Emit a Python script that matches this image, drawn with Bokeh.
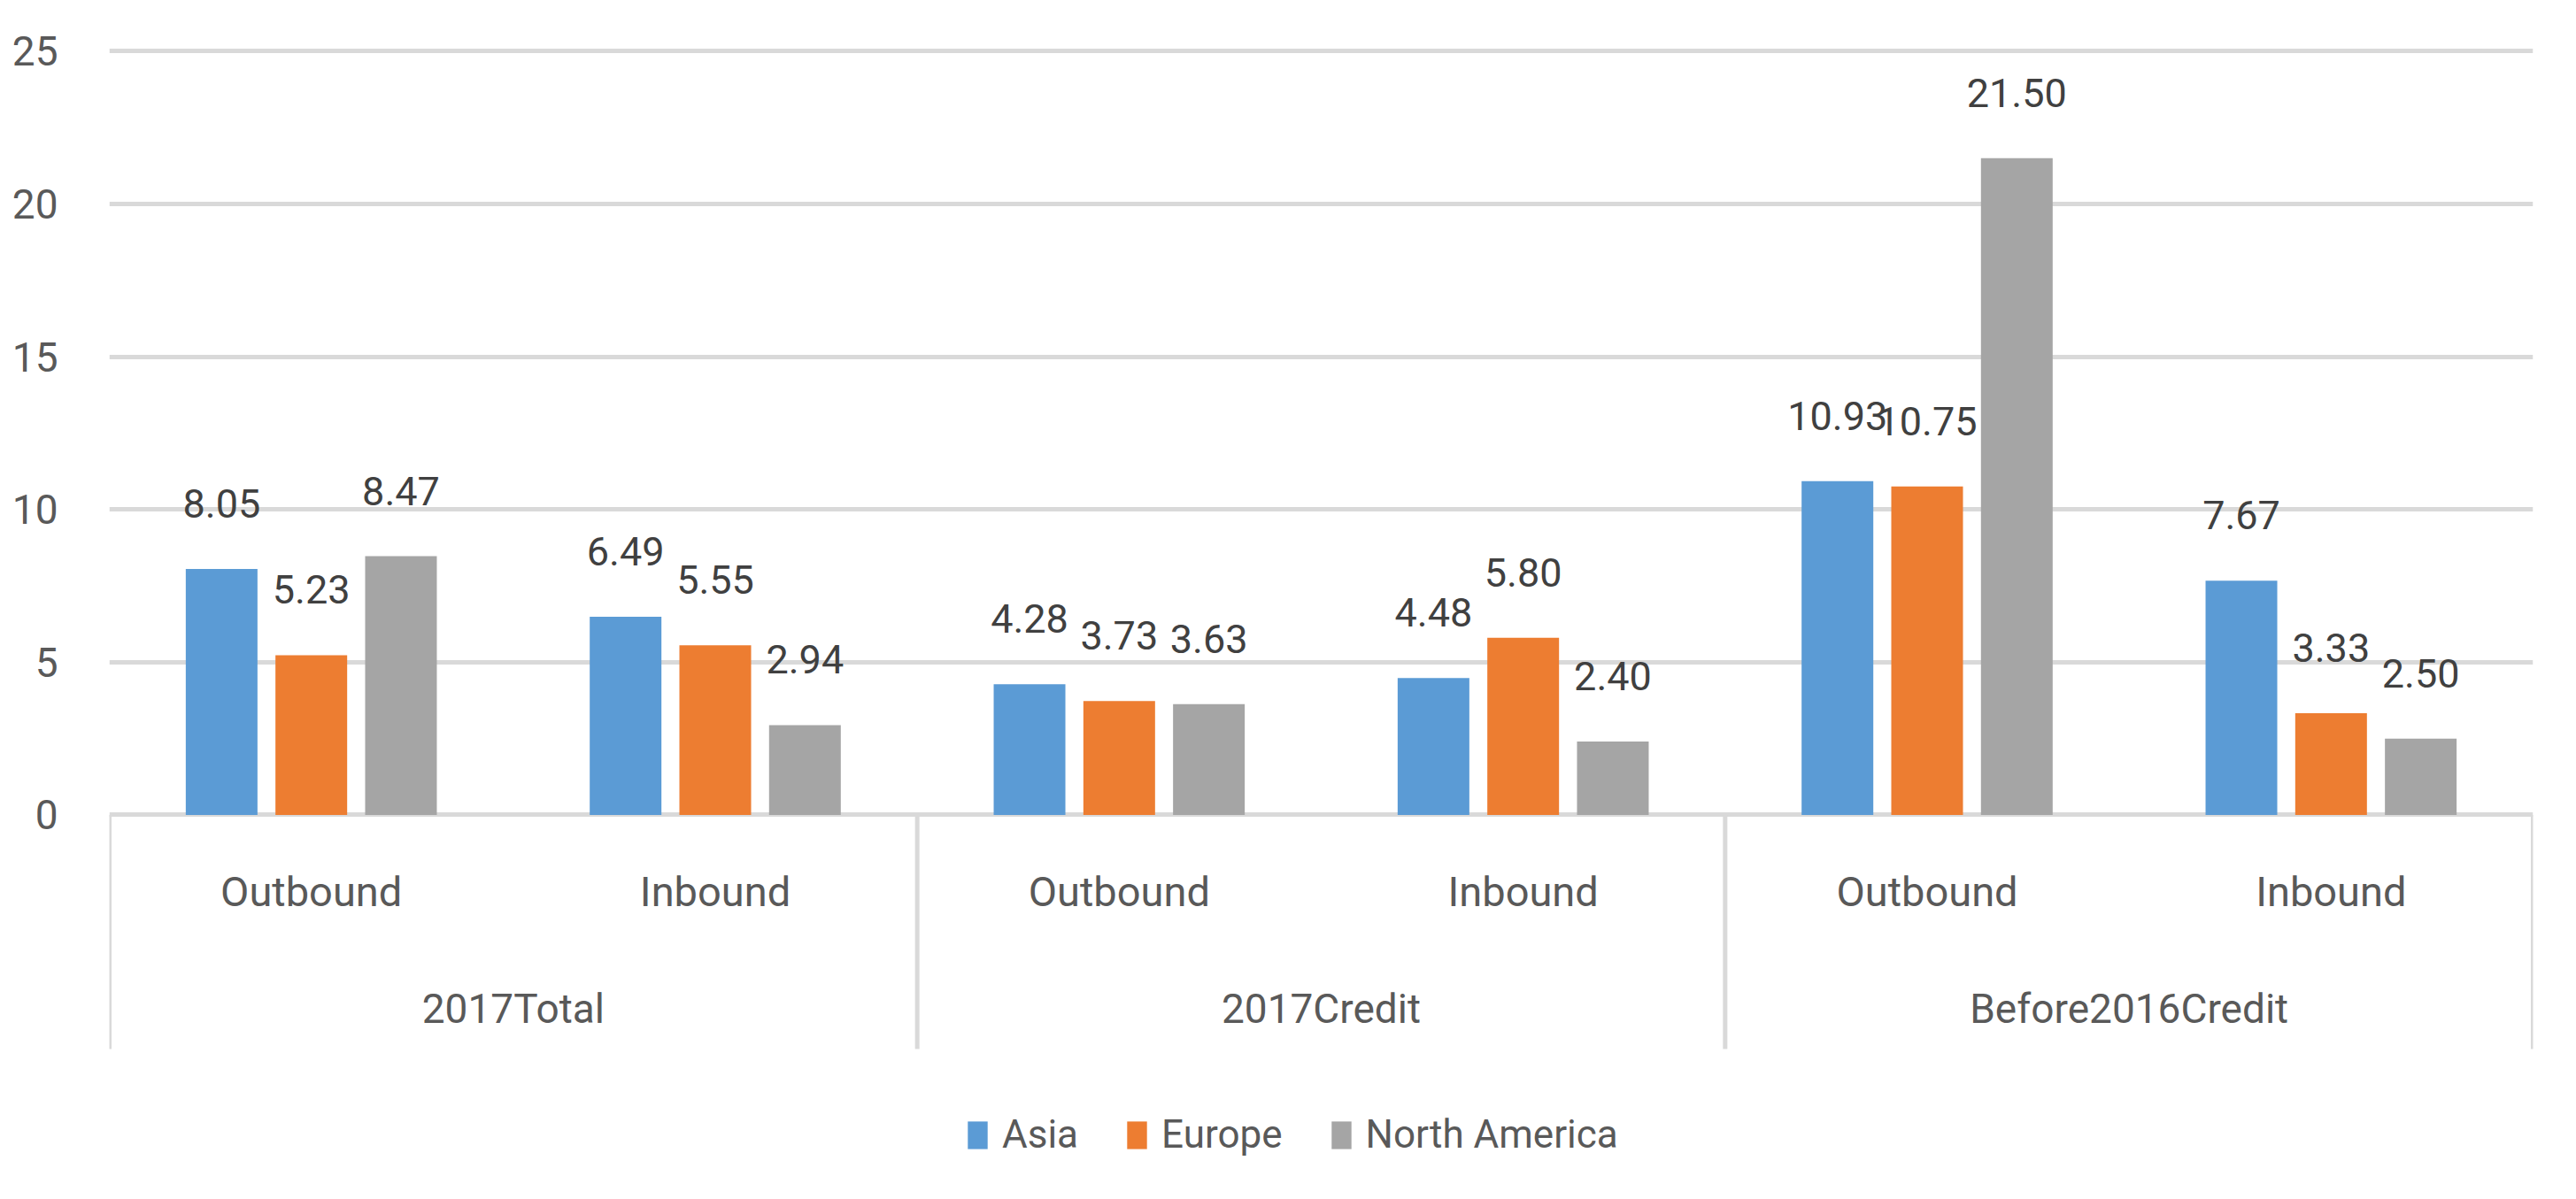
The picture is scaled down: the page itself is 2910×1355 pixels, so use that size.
from bokeh.plotting import figure
from bokeh.models import (FactorRange, ColumnDataSource, FixedTicker, Legend, LegendItem, Range1d)
from bokeh.transform import dodge
from bokeh.core.properties import value
from bokeh.embed import file_html
from bokeh.resources import INLINE

groups = ["2017Total", "2017Credit", "Before2016Credit"]
subs = ["Outbound", "Inbound"]
series = ["Asia", "Europe", "North America"]
asia = [8.05, 6.49, 4.28, 4.48, 10.93, 7.67]
europe = [5.23, 5.55, 3.73, 5.80, 10.75, 3.33]
north_america = [8.47, 2.94, 3.63, 2.40, 21.50, 2.50]
y_ticks = [0, 5, 10, 15, 20, 25]

colors = ["#5B9BD5", "#ED7D31", "#A5A5A5"]
FONT = "Roboto"
AXIS_COLOR = "#595959"
LABEL_COLOR = "#404040"
GRID_COLOR = "#D9D9D9"

factors = [(g, s) for g in groups for s in subs]
x_range = FactorRange(*factors, group_padding=0, subgroup_padding=0,
                      factor_padding=0, range_padding=0)

p = figure(width=2894, height=1339, x_range=x_range,
           y_range=Range1d(-12.126, 25.449),
           output_backend="svg", toolbar_location=None,
           min_border_left=123, min_border_right=33,
           min_border_top=42, min_border_bottom=0)
p.outline_line_color = None
p.background_fill_color = "white"
p.border_fill_color = "white"

src = ColumnDataSource(dict(
    x=factors, asia=asia, europe=europe, na=north_america,
    asia_t=[f"{v:.2f}" for v in asia],
    europe_t=[f"{v:.2f}" for v in europe],
    na_t=[f"{v:.2f}" for v in north_america],
))

offsets = [-0.222, 0.0, 0.222]
cols = ["asia", "europe", "na"]
renderers = []
for col, off, c in zip(cols, offsets, colors):
    r = p.vbar(x=dodge("x", off, range=p.x_range), top=col, width=0.1775,
               bottom=0, source=src, fill_color=c, line_color=None)
    renderers.append(r)
    p.text(x=dodge("x", off, range=p.x_range), y=col, text=col + "_t",
           source=src, y_offset=-74, text_align="center",
           text_baseline="middle", text_font=value(FONT),
           text_font_size="45px", text_color=LABEL_COLOR)

# category axis texts
p.text(x=factors, y=[-2.509] * len(factors), text=[s for g, s in factors],
       text_align="center", text_baseline="middle", text_font=value(FONT),
       text_font_size="47px", text_color=AXIS_COLOR)
p.text(x=groups, y=[-6.347] * len(groups), text=groups,
       text_align="center", text_baseline="middle", text_font=value(FONT),
       text_font_size="46px", text_color=AXIS_COLOR)

# separators of category axis
sep_x = [(g, "Outbound", -0.5) for g in groups] + [(groups[-1], "Inbound", 0.5)]
p.segment(x0=sep_x, x1=sep_x, y0=[0] * len(sep_x), y1=[-7.665] * len(sep_x),
          line_color=GRID_COLOR, line_width=5)

p.xaxis.visible = False
p.xgrid.visible = False
p.yaxis.ticker = FixedTicker(ticks=y_ticks)
p.ygrid.ticker = FixedTicker(ticks=y_ticks)
p.ygrid.grid_line_color = GRID_COLOR
p.ygrid.grid_line_width = 5
p.yaxis.axis_line_color = None
p.yaxis.major_tick_line_color = None
p.yaxis.minor_tick_line_color = None
p.yaxis.major_tick_out = 0
p.yaxis.major_tick_in = 0
p.yaxis.major_label_standoff = 58
p.yaxis.major_label_text_font = FONT
p.yaxis.major_label_text_font_size = "46px"
p.yaxis.major_label_text_color = AXIS_COLOR

legend = Legend(items=[LegendItem(label=s, renderers=[r]) for s, r in zip(series, renderers)],
                orientation="horizontal", location=(967, 31),
                glyph_width=28, glyph_height=39, label_height=39,
                label_standoff=14, spacing=52, padding=0, margin=0,
                border_line_color=None, background_fill_alpha=0,
                label_text_font=FONT, label_text_font_size="44px",
                label_text_color=AXIS_COLOR)
p.add_layout(legend, "center")

open("out.html", "w").write(file_html(p, INLINE))
